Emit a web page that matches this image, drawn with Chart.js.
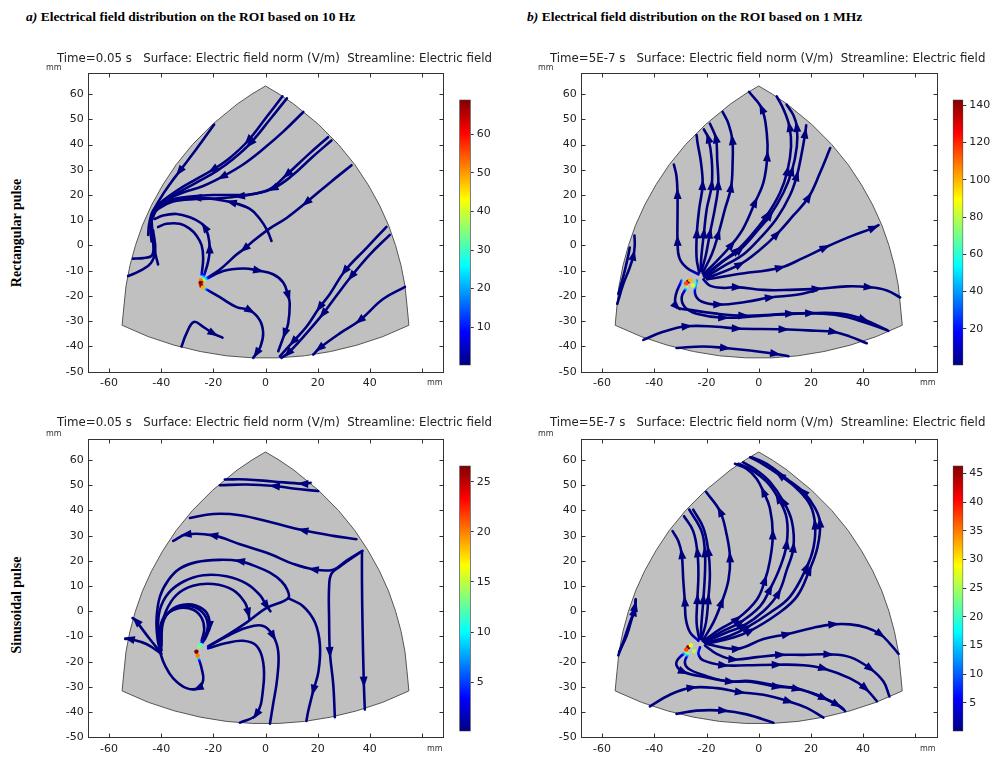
<!DOCTYPE html>
<html>
<head>
<meta charset="utf-8">
<script src="https://cdn.jsdelivr.net/npm/chart.js@4.4.1/dist/chart.umd.min.js"></script>
<style>
  body { margin: 0; width: 994px; height: 758px; background: #fff; position: relative; overflow: hidden; }
  canvas, .txt { position: absolute; }
  .title { font: bold 13.5px "Liberation Serif", serif; white-space: nowrap; color: #000; }
  .sub { font: 11.8px "DejaVu Sans", sans-serif; white-space: pre; color: #222; }
  .unit { font: 8px "DejaVu Sans", sans-serif; color: #333; }
  .side { font: bold 14px "Liberation Serif", serif; white-space: nowrap; transform: translate(-50%, -50%) rotate(-90deg); }
</style>
</head>
<body>
<div class="txt title" style="left:26px;top:9px"><i>a)</i> Electrical field distribution on the ROI based on 10 Hz</div>
<div class="txt title" style="left:527px;top:9px"><i>b)</i> Electrical field distribution on the ROI based on 1 MHz</div>
<div class="txt side" style="left:17px;top:233px">Rectangular pulse</div>
<div class="txt side" style="left:17px;top:605px">Sinusoidal pulse</div>

<canvas id="p1" width="408" height="330" style="left:40px;top:62px"></canvas>
<canvas id="p2" width="408" height="330" style="left:533px;top:62px"></canvas>
<canvas id="p3" width="408" height="330" style="left:40px;top:428px"></canvas>
<canvas id="p4" width="408" height="330" style="left:533px;top:428px"></canvas>
<canvas id="c1" width="45" height="285" style="left:455px;top:90px"></canvas>
<canvas id="c2" width="46" height="285" style="left:948px;top:90px"></canvas>
<canvas id="c3" width="45" height="285" style="left:455px;top:456px"></canvas>
<canvas id="c4" width="46" height="285" style="left:948px;top:456px"></canvas>

<script>
// ---- data (mm) ----
const xTicks = [-60, -40, -20, 0, 20, 40, 60];
const xTickLabels = ['-60', '-40', '-20', '0', '20', '40', ''];
const yTicks = [-50, -40, -30, -20, -10, 0, 10, 20, 30, 40, 50, 60];

const subtitle10Hz = 'Time=0.05 s   Surface: Electric field norm (V/m)  Streamline: Electric field';
const subtitle1MHz = 'Time=5E-7 s   Surface: Electric field norm (V/m)  Streamline: Electric field';

// outline of the region of interest
const roiBoundary = [
  [-55, -31.6], [-54.3, -24], [-53.5, -16], [-52, -8], [-49.9, 0], [-47.2, 8], [-43.7, 16],
  [-39.4, 24], [-34.3, 32], [-28, 40], [-20.3, 48], [-10.9, 56], [-5.2, 60], [0, 63.2],
  [5.2, 60], [10.9, 56], [20.3, 48], [28, 40], [34.3, 32], [39.4, 24], [43.7, 16], [47.2, 8],
  [49.9, 0], [52, -8], [53.5, -16], [54.3, -24], [55, -31.6],
  [45, -36.1], [35, -39.5], [25, -42], [15, -43.7], [5, -44.5], [-5, -44.5], [-15, -43.7],
  [-25, -42], [-35, -39.5], [-45, -36.1], [-55, -31.6]
];

// colour bar ranges (V/m) and ticks
const cbRange10HzRect = [0.1, 69];
const cbRange1MHzRect = [0.4, 143];
const cbRange10HzSin = [0.1, 26.6];
const cbRange1MHzSin = [0, 46.4];
const cbTicks10HzRect = [10, 20, 30, 40, 50, 60];
const cbTicks1MHzRect = [20, 40, 60, 80, 100, 120, 140];
const cbTicks10HzSin = [5, 10, 15, 20, 25];
const cbTicks1MHzSin = [5, 10, 15, 20, 25, 30, 35, 40, 45];

// electrode hot spot: centre and a few surface samples [x, y, relative norm]
const src10HzRect = [-24.8, -15];
const src1MHzRect = [-26.5, -14.8];
const src10HzSin = [-26.2, -16];
const src1MHzSin = [-26.5, -14.8];
const hot10HzRect = [[-24.8, -13.8, 0.75], [-24.9, -14.8, 1], [-24.6, -15.9, 0.95], [-24.0, -16.6, 0.7]];
const hot1MHzRect = [[-27.0, -14.3, 1], [-27.8, -15.0, 0.8], [-26.2, -13.8, 0.7], [-25.2, -15.8, 0.6]];
const hot10HzSin = [[-26.5, -16.0, 1], [-26.0, -17.6, 0.75], [-25.4, -13.8, 0.5], [-24.8, -13.4, 0.45]];
const hot1MHzSin = [[-27.0, -14.3, 1], [-27.8, -15.2, 0.8], [-26.0, -13.6, 0.6], [-24.8, -15.8, 0.55]];

// streamlines, listed in flow order; third value 1 marks an arrow head
const lines10HzRect = [
  [[6.5, 59.1], [0.4, 50.9], [-6.6, 41.6, 1], [-13.7, 34.7], [-20.1, 30.1, 1], [-27.7, 25.6], [-34.1, 21.7], [-39.3, 17.8], [-43.1, 13.9], [-44.6, 8.7], [-45.0, 4.2]],
  [[8.2, 58.3], [1.7, 49.9], [-5.8, 40.5, 1], [-12.4, 34.3], [-18.8, 29.5], [-26.5, 24.9], [-32.9, 21.3], [-38.0, 18.2], [-41.8, 14.5], [-43.4, 10.6]],
  [[-19.7, 47.9], [-26.5, 38.2], [-32.9, 29.5, 1], [-36.7, 24.3], [-40.5, 18.4], [-43.1, 13.2], [-44.1, 6.8], [-43.7, 1.6]],
  [[14.5, 52.9], [6.8, 45.1], [-0.9, 38.2], [-8.6, 32.1], [-16.5, 27.3, 1], [-23.9, 23.6], [-31.6, 21.0], [-37.3, 18.4], [-41.6, 14.8], [-43.7, 10.0]],
  [[24.0, 42.9], [16.4, 36.0], [8.3, 28.2, 1], [1.7, 22.3], [-4.7, 20.4], [-12.4, 20.0], [-20.1, 20.0], [-27.7, 19.5], [-35.4, 18.4], [-40.5, 16.1], [-43.4, 12.6]],
  [[25.3, 41.6], [17.6, 34.7], [10.0, 27.5], [2.9, 22.6, 1], [-4.7, 20.4], [-9.8, 19.5, 1], [-17.5, 18.7], [-26.5, 18.4], [-35.4, 17.4], [-41.2, 14.5], [-43.6, 11.3]],
  [[33.0, 31.8], [24.7, 24.9], [15.7, 17.1, 1], [8.1, 10.9], [1.7, 6.8], [-4.7, 1.8], [-8.0, -1.2, 1], [-11.1, -3.6], [-17.5, -9.5], [-22.6, -13.0], [-24.3, -14.3]],
  [[2.3, 1.8], [0.6, 6.1], [-2.2, 10.6], [-6.0, 14.5], [-13.0, 17.1, 1], [-20.1, 18.4], [-26.5, 18.9, 1], [-32.9, 18.4], [-38.0, 16.8], [-41.8, 14.5]],
  [[-23.9, -12.9], [-22.0, -6.4], [-21.4, -1.2, 1], [-22.0, 4.0], [-23.3, 7.3, 1], [-25.2, 9.2], [-29.0, 11.2], [-34.1, 12.5], [-39.3, 11.9], [-42.5, 10.5]],
  [[-24.5, -11.6], [-23.9, -5.1], [-24.5, 0.1], [-26.5, 4.0], [-29.0, 6.6], [-32.9, 8.6], [-38.0, 8.6], [-41.2, 7.3]],
  [[-43.7, 10.0], [-43.1, 2.0], [-42.3, -3.0], [-41.2, -7.5]],
  [[-43.7, 8.0], [-43.0, 0], [-43.6, -4.0], [-47.0, -5.0], [-50.8, -5.2]],
  [[-43.1, 6.0], [-42.3, -2.0], [-44.0, -7.0], [-48.0, -10.0], [-52.7, -12.1]],
  [[46.4, 7.4], [38.7, -1.0], [30.4, -10.1, 1], [24.7, -19.2], [20.8, -24.4, 1], [15.7, -32.2], [10.6, -38.1, 1], [5.5, -43.9]],
  [[47.7, 4.2], [40.0, -3.6], [33.0, -12.1, 1], [27.2, -19.9], [22.1, -27.0, 1], [15.7, -34.8], [8.7, -42.6, 1], [6.1, -44.5]],
  [[53.5, -16.4], [45.1, -21.2], [36.2, -29.6, 1], [28.5, -34.8], [20.8, -40.6, 1], [18.3, -43.2]],
  [[-23.9, -14.0], [-16.2, -10.1], [-8.6, -9.1], [-2.8, -9.9, 1], [2.9, -11.4], [6.8, -14.7], [8.7, -19.9, 1], [9.3, -23.1], [8.7, -30.9], [7.4, -34.8, 1], [4.9, -41.9]],
  [[-23.9, -16.6], [-17.5, -20.5], [-11.1, -24.4], [-6.0, -25.7, 1], [-2.2, -29.6], [-0.9, -34.8], [-1.9, -40.0], [-3.4, -42.6, 1], [-4.7, -44.5]],
  [[-32.2, -40.0], [-30.3, -34.8], [-27.5, -30.3], [-23.9, -32.2], [-20.1, -34.8, 1], [-16.5, -36.5]]
];

const lines1MHzRect = [
  [[-23.1, -11.4], [-27.6, -8.8], [-30.4, -4.9], [-31.1, 1.8, 1], [-31.1, 11.9], [-31.1, 20.4, 1], [-31.5, 27.5], [-32.5, 32.1]],
  [[-22.8, -10.8], [-23.8, -4.9], [-23.7, 4.8, 1], [-22.8, 14.5], [-21.5, 23.9, 1], [-22.1, 32.7], [-23.4, 40.5], [-23.8, 43.8]],
  [[-22.3, -10.1], [-21.9, -3.6], [-21.0, 4.8, 1], [-19.9, 14.5], [-18.0, 23.9, 1], [-18.0, 34.0], [-19.3, 42.5, 1], [-21.0, 46.0]],
  [[-21.9, -10.1], [-20.2, -3.6], [-18.7, 4.8, 1], [-16.8, 14.5], [-15.5, 23.9, 1], [-15.9, 34.0], [-16.4, 42.5, 1], [-18.7, 48.3]],
  [[-21.5, -10.8], [-18.0, -3.6], [-15.5, 4.4, 1], [-12.9, 14.5], [-10.6, 23.0, 1], [-10.0, 32.7], [-10.1, 41.8, 1], [-11.6, 48.3], [-13.8, 52.9]],
  [[-21.2, -11.4], [-16.1, -6.2], [-10.4, 0.3, 1], [-5.9, 6.8], [-1.4, 17.1, 1], [1.8, 24.9], [3.3, 35.3, 1], [3.1, 44.4], [1.2, 54.2, 1], [-3.7, 60.9]],
  [[-21.0, -12.1], [-15.5, -7.5], [-8.4, -2.0, 1], [-2.7, 4.2], [3.1, 11.9, 1], [8.2, 21.0], [11.0, 29.5, 1], [12.4, 39.2], [11.8, 47.0, 1], [9.7, 53.5], [6.9, 59.1]],
  [[-20.7, -12.5], [-13.6, -6.2], [-7.2, -1.7, 1], [-0.8, 5.5], [4.3, 11.9, 1], [9.5, 21.0], [12.7, 29.5, 1], [14.6, 39.2], [14.6, 47.0, 1], [13.3, 51.6], [10.7, 55.8]],
  [[-20.5, -12.7], [-12.3, -7.5], [-5.9, -3.6], [0.5, 2.9], [6.9, 10.7], [11.9, 19.7], [14.6, 27.5, 1], [16.5, 36.6], [17.8, 44.4, 1], [18.2, 47.6]],
  [[-19.9, -13.0], [-7.2, -7.5, 1], [0.5, -1.7], [6.9, 4.4, 1], [13.3, 11.9], [19.1, 19.1, 1], [23.5, 28.8], [27.4, 38.6]],
  [[-19.7, -13.4], [-8.4, -11.4], [8.2, -8.8, 1], [17.1, -4.9], [25.4, -0.8, 1], [35.0, 3.5], [44.0, 7.0, 1], [45.9, 8.1]],
  [[-21.2, -13.4], [-18.7, -15.9], [-13.6, -16.8], [-8.4, -16.5, 1], [1.8, -17.6], [12.0, -17.6], [22.2, -17.2, 1], [33.8, -16.2], [42.1, -16.5, 1], [49.1, -17.8], [54.2, -20.6]],
  [[-23.8, -13.9], [-24.4, -19.0], [-21.9, -22.2], [-15.5, -23.4, 1], [-4.6, -22.3], [4.3, -20.6, 1], [14.6, -19.5], [22.2, -17.7]],
  [[-27.6, -16.6], [-29.5, -20.5], [-28.3, -24.4], [-23.8, -27.0], [-13.6, -28.6, 1], [-0.8, -28.0], [12.0, -27.0, 1], [24.8, -27.0], [33.8, -28.3], [40.2, -30.3], [49.1, -33.5]],
  [[-29.5, -13.9], [-31.8, -19.7], [-31.5, -24.2, 1], [-26.3, -25.5], [-16.1, -27.0], [-5.9, -27.8, 1], [6.9, -27.4], [19.7, -26.8, 1], [31.2, -27.0], [40.2, -29.3, 1], [49.7, -33.8]],
  [[-44.2, -37.4], [-36.6, -34.2], [-27.6, -32.0, 1], [-16.1, -32.2], [-8.4, -32.9, 1], [9.5, -33.2, 1], [22.2, -33.8], [28.6, -34.2, 1], [35.0, -36.1], [41.4, -38.7]],
  [[-31.5, -40.6], [-21.2, -40.0], [-12.9, -40.6, 1], [-3.3, -41.6], [6.3, -42.9, 1], [11.4, -43.9]],
  [[-54.2, -23.1], [-51.8, -15.0], [-49.5, -9.0], [-48.0, -4.0, 1], [-47.5, 0], [-47.6, 3.9]],
  [[-53.8, -19.2], [-51.8, -12.0], [-50.2, -5.0], [-49.4, -0.8]]
];

const lines10HzSin = [
  [[17.3, 51.0], [14.5, 50.6, 1], [2.9, 51.5], [-7.3, 52.3], [-15.6, 52.3]],
  [[20.2, 47.7], [10.6, 48.7], [3.6, 49.7, 1], [-7.3, 50.3], [-17.5, 50.0]],
  [[34.9, 28.6], [26.0, 29.9], [14.5, 32.1, 1], [2.9, 35.1], [-9.8, 38.1], [-20.1, 38.6], [-29.0, 37.0]],
  [[37.2, 24.0], [31.1, 20.1], [26.0, 16.5], [18.5, 16.6, 1], [10.6, 18.8], [1.7, 22.7], [-9.8, 26.6], [-20.1, 30.1, 1], [-30.3, 30.5, 1], [-35.4, 27.9]],
  [[-22.0, -13.9], [-15.0, -9.7], [-7.3, -4.5], [0.4, 1.3], [8.7, 5.2], [8.4, 8.4], [6.1, 11.9], [1.7, 15.3], [-4.7, 18.2], [-9.8, 19.9, 1], [-17.5, 20.4], [-26.5, 19.5], [-32.9, 16.9], [-37.3, 12.3], [-40.5, 5.8], [-41.8, -3.2], [-41.4, -11.0], [-40.2, -16.5]],
  [[-40.3, -16.0], [-41.2, -7.1], [-40.5, 0.6], [-37.3, 7.1], [-31.6, 11.7], [-23.9, 14.3], [-15.0, 13.9], [-7.3, 11.0], [-2.2, 6.5], [0.4, 2.2, 1], [1.9, 0]],
  [[-39.9, -15.6], [-40.3, -7.8], [-38.2, 0], [-34.1, 6.5], [-27.8, 10.1], [-20.1, 10.8], [-12.4, 8.4], [-7.9, 3.5], [-6.6, -0.6, 1], [-6.2, -3.2]],
  [[-39.9, -13.6], [-39.3, -4.5], [-36.1, 0.6], [-31.6, 2.6], [-26.5, 2.2], [-22.6, -0.6], [-21.4, -5.8, 1], [-22.9, -10.4], [-24.3, -12.6]],
  [[-40.3, -13.6], [-39.9, -5.2], [-37.3, -0.6], [-32.2, 1.9], [-27.1, 1.6], [-23.5, -1.3], [-22.1, -5.8], [-23.5, -11.0], [-24.7, -12.9]],
  [[-40.5, -13.0], [-40.3, -5.8], [-38.0, -1.3], [-32.9, 1.3], [-27.7, 0.6], [-24.5, -2.6], [-23.5, -7.1], [-24.5, -11.7]],
  [[-40.3, -16.2], [-44.4, -11.0], [-48.2, -5.8], [-49.5, -3.9, 1], [-51.0, -2.7]],
  [[-39.9, -16.9], [-45.7, -13.0], [-52.1, -11.0, 1], [-53.8, -11.0]],
  [[-26.4, -16.8], [-25.4, -19.5], [-24.5, -22.7], [-23.9, -27.3], [-25.8, -30.5, 1], [-30.3, -30.5], [-35.4, -26.6], [-38.6, -21.4], [-40.5, -16.2]],
  [[37.0, 23.8], [37.0, 12.3], [37.2, -4.5], [37.7, -27.9, 1], [38.1, -39.0]],
  [[37.0, 23.8], [28.6, 17.8], [25.3, 14.9], [24.4, 9.7], [24.4, -3.2], [24.7, -16.2, 1], [26.0, -29.2], [26.6, -42.0]],
  [[8.7, 5.2], [14.5, 1.9], [19.0, -4.5], [20.9, -13.6], [20.3, -24.0], [18.4, -31.2, 1], [16.4, -39.6], [15.7, -43.5]],
  [[-22.0, -14.0], [-15.0, -10.0], [-7.3, -6.5], [-0.9, -5.8], [2.9, -9.7, 1], [4.9, -16.2], [4.5, -26.6], [2.9, -37.0], [1.7, -44.6]],
  [[-22.0, -14.7], [-15.0, -12.6], [-8.6, -11.7], [-3.5, -13.6], [-0.9, -20.1], [-0.9, -30.5], [-3.5, -40.9, 1], [-9.8, -44.2]]
];

const lines1MHzSin = [
  [[-23.1, -11.7], [-26.3, -8.4], [-27.9, -3.2], [-28.3, 3.9, 1], [-28.9, 12.3], [-29.5, 22.7, 1], [-30.8, 27.9], [-33.0, 31.8]],
  [[-22.8, -11.0], [-23.8, -4.5], [-23.5, 4.8, 1], [-23.1, 14.9], [-23.5, 23.4, 1], [-25.1, 31.8], [-28.6, 37.7]],
  [[-22.3, -11.0], [-21.9, -4.5], [-21.2, 4.8, 1], [-20.6, 14.9], [-20.6, 23.4, 1], [-21.9, 31.8], [-26.6, 40.3]],
  [[-22.0, -11.0], [-20.2, -4.5], [-19.3, 4.8, 1], [-18.7, 14.9], [-19.3, 23.8, 1], [-21.2, 33.1], [-25.1, 40.3]],
  [[-21.5, -11.7], [-17.4, -4.5], [-14.2, 3.5, 1], [-11.6, 12.3], [-11.0, 21.4, 1], [-12.3, 30.5], [-14.8, 39.6, 1], [-20.2, 47.4]],
  [[-21.2, -11.7], [-14.8, -7.1], [-8.4, -3.2, 1], [-0.8, 4.5], [2.4, 12.3, 1], [4.3, 20.1], [5.4, 30.5, 1], [4.3, 40.9], [1.8, 47.4, 1], [-0.8, 52.6], [-4.6, 56.5], [-9.1, 58.5]],
  [[-21.0, -12.1], [-13.6, -7.8], [-7.2, -4.5, 1], [0.5, 1.9], [4.3, 8.7, 1], [8.2, 17.5], [10.7, 26.6, 1], [10.7, 37.0], [7.5, 44.8, 1], [3.1, 51.3], [-3.3, 56.5], [-7.8, 58.5]],
  [[-20.7, -12.3], [-12.3, -8.4], [-5.9, -5.8, 1], [1.8, 0], [7.5, 7.1, 1], [10.7, 16.2], [13.3, 25.3, 1], [12.7, 35.7], [9.5, 43.5, 1], [4.3, 51.3], [-0.8, 55.9], [-5.9, 59.1]],
  [[-20.5, -12.6], [-11.0, -9.7], [-4.6, -6.5, 1], [4.3, -0.6], [12.0, 5.8], [18.4, 17.5, 1], [21.0, 25.3], [21.6, 34.4, 1], [19.7, 42.2], [14.6, 48.7], [8.2, 53.9, 1], [0.5, 59.1], [-3.3, 61.1]],
  [[-20.2, -12.9], [-9.7, -10.4], [-3.3, -7.8, 1], [6.9, -1.3], [14.6, 5.8], [19.4, 16.2, 1], [22.5, 25.3], [23.5, 35.1, 1], [21.6, 40.9], [17.1, 47.4, 1], [10.7, 52.6], [3.1, 58.5], [-2.7, 61.1]],
  [[-20.0, -13.0], [-8.4, -14.9, 1], [1.8, -11.0], [10.7, -9.1, 1], [21.0, -6.5], [28.6, -5.2, 1], [35.0, -5.2], [41.4, -6.5], [46.6, -9.1, 1], [50.4, -13.0], [53.6, -16.9]],
  [[-20.6, -13.6], [-16.1, -16.9], [-9.7, -19.1, 1], [-0.8, -18.2], [8.2, -17.3, 1], [17.1, -17.3], [26.7, -17.1, 1], [35.0, -18.2], [42.7, -22.7, 1], [47.8, -27.9], [50.1, -33.8]],
  [[-22.5, -14.3], [-23.1, -16.9], [-21.2, -19.5], [-13.6, -21.4, 1], [-4.6, -21.4], [6.9, -21.2, 1], [17.1, -21.4], [24.8, -22.7, 1], [35.0, -26.6], [40.8, -30.5, 1], [45.3, -35.7]],
  [[-27.6, -16.0], [-30.8, -18.8], [-31.5, -21.4], [-28.9, -24.0, 1], [-21.2, -26.0], [-11.0, -27.9, 1], [-3.3, -27.9], [6.9, -29.9, 1], [14.6, -30.5], [24.8, -34.4, 1], [31.2, -37.7], [33.1, -39.6]],
  [[-27.0, -16.9], [-28.3, -20.1], [-27.0, -22.7], [-21.2, -25.3], [-12.3, -27.7], [-3.3, -27.7], [6.9, -29.5], [14.6, -30.8, 1], [22.3, -33.1], [29.9, -37.0, 1], [32.5, -39.0]],
  [[-41.7, -37.7], [-34.0, -33.1], [-25.7, -30.3, 1], [-16.1, -30.5], [-7.2, -32.1, 1], [1.8, -33.1], [11.4, -35.7, 1], [18.4, -38.3], [24.8, -42.2]],
  [[-31.5, -40.7], [-23.8, -39.4], [-13.6, -39.4, 1], [-4.6, -40.9], [5.6, -44.2]],
  [[-53.8, -17.5], [-51.5, -11.0], [-49.4, -4.5], [-47.7, 0, 1], [-47.1, 4.8]],
  [[-53.5, -16.2], [-50.6, -9.7], [-48.7, -3.2], [-47.4, 1.9, 1], [-47.1, 4.5]]
];

// ---- styling ----
const navy = '#00007f';
const heatRadius = 5.5;
const jetStops = [[0, '#00007f'], [0.125, '#0000ff'], [0.375, '#00ffff'], [0.625, '#ffff00'], [0.875, '#ff0000'], [1, '#7f0000']];
const heatStops = [[0, '#7f0000'], [0.15, '#ff0000'], [0.3, '#ffff00'], [0.45, '#00ffff'], [0.65, '#0000ff'], [1, '#00007f']];

Chart.defaults.font.family = "'DejaVu Sans', sans-serif";
Chart.defaults.font.size = 11;
Chart.defaults.color = '#222';

function jet(t) {
  // interpolate the jet colour map
  for (let i = 1; i < jetStops.length; i++) {
    if (t <= jetStops[i][0]) {
      const [t0, c0] = jetStops[i - 1], [t1, c1] = jetStops[i];
      const f = (t - t0) / (t1 - t0);
      const a = [1, 3, 5].map(k => parseInt(c0.substr(k, 2), 16));
      const b = [1, 3, 5].map(k => parseInt(c1.substr(k, 2), 16));
      return 'rgb(' + a.map((v, j) => Math.round(v + (b[j] - v) * f)).join(',') + ')';
    }
  }
  return jetStops[jetStops.length - 1][1];
}

function heatStroke(chart, c) {
  const xs = chart.scales.x, ys = chart.scales.y;
  if (!xs || !ys) return navy;
  const px = xs.getPixelForValue(c[0]), py = ys.getPixelForValue(c[1]);
  const r = xs.getPixelForValue(c[0] + heatRadius) - px;
  if (!isFinite(px) || !isFinite(py) || !(r > 0)) return navy;
  const g = chart.ctx.createRadialGradient(px, py, 0, px, py, r);
  heatStops.forEach(([o, col]) => g.addColorStop(o, col));
  return g;
}

// box with inward ticks on all four sides
const framePlugin = {
  id: 'frame',
  afterDatasetsDraw(chart) {
    const { ctx, chartArea: a } = chart;
    const xs = chart.scales.x, ys = chart.scales.y;
    const L = Math.round(a.left) + 0.5, R = Math.round(a.right) + 0.5;
    const T = Math.round(a.top) + 0.5, B = Math.round(a.bottom) + 0.5;
    ctx.save();
    ctx.strokeStyle = '#333';
    ctx.lineWidth = 1;
    ctx.strokeRect(L, T, R - L, B - T);
    ctx.beginPath();
    xTicks.forEach(v => {
      const px = Math.round(xs.getPixelForValue(v)) + 0.5;
      ctx.moveTo(px, B); ctx.lineTo(px, B - 4);
      ctx.moveTo(px, T); ctx.lineTo(px, T + 4);
    });
    yTicks.forEach(v => {
      const py = Math.round(ys.getPixelForValue(v)) + 0.5;
      ctx.moveTo(L, py); ctx.lineTo(L + 4, py);
      ctx.moveTo(R, py); ctx.lineTo(R - 4, py);
    });
    ctx.stroke();
    ctx.restore();
  }
};

// arrow heads along streamlines
const arrowPlugin = {
  id: 'arrows',
  afterDatasetsDraw(chart) {
    const { ctx } = chart;
    const xs = chart.scales.x, ys = chart.scales.y;
    ctx.save();
    ctx.fillStyle = navy;
    chart.data.datasets.forEach(ds => {
      if (!ds.arrows) return;
      const pts = ds.data;
      ds.arrows.forEach(i => {
        const p = pts[i], a = pts[Math.max(0, i - 1)], b = pts[Math.min(pts.length - 1, i + 1)];
        const px = xs.getPixelForValue(p.x), py = ys.getPixelForValue(p.y);
        let dx = xs.getPixelForValue(b.x) - xs.getPixelForValue(a.x);
        let dy = ys.getPixelForValue(b.y) - ys.getPixelForValue(a.y);
        const len = Math.hypot(dx, dy) || 1;
        dx /= len; dy /= len;
        ctx.beginPath();
        ctx.moveTo(px + dx * 6, py + dy * 6);
        ctx.lineTo(px - dx * 5 - dy * 4, py - dy * 5 + dx * 4);
        ctx.lineTo(px - dx * 5 + dy * 4, py - dy * 5 - dx * 4);
        ctx.closePath();
        ctx.fill();
      });
    });
    ctx.restore();
  }
};

function drawPanel(id, lines, src, hot, box) {
  const datasets = [{
    data: roiBoundary.map(p => ({ x: p[0], y: p[1] })),
    showLine: true, fill: 'shape', tension: 0,
    backgroundColor: '#c0c0c0', borderColor: '#555', borderWidth: 1,
    pointRadius: 0, order: 10
  }];
  lines.forEach(pts => {
    datasets.push({
      data: pts.map(p => ({ x: p[0], y: p[1] })),
      arrows: pts.map((p, i) => p[2] ? i : -1).filter(i => i >= 0),
      showLine: true, fill: false, tension: 0.4,
      borderColor: ctx => heatStroke(ctx.chart, src),
      borderWidth: 2.6, borderCapStyle: 'round',
      pointRadius: 0, order: 2
    });
  });
  datasets.push({
    data: hot.map(p => ({ x: p[0], y: p[1] })),
    pointRadius: 2.2, borderWidth: 0,
    pointBackgroundColor: hot.map(p => jet(p[2])),
    showLine: false, order: 0
  });

  new Chart(document.getElementById(id), {
    type: 'scatter',
    data: { datasets },
    plugins: [framePlugin, arrowPlugin],
    options: {
      responsive: false, animation: false, devicePixelRatio: 1,
      layout: { padding: { top: box.top, right: box.right, left: 0, bottom: 0 } },
      plugins: { legend: { display: false }, tooltip: { enabled: false } },
      scales: {
        x: {
          type: 'linear', min: -68.2, max: 68.2,
          grid: { display: false, drawTicks: false }, border: { display: false },
          afterBuildTicks: s => { s.ticks = xTicks.map(v => ({ value: v })); },
          afterFit: s => { s.height = box.xh; },
          ticks: { padding: 5, maxRotation: 0, autoSkip: false, callback: (v, i) => xTickLabels[i] }
        },
        y: {
          type: 'linear', min: -50, max: 68.5,
          grid: { display: false, drawTicks: false }, border: { display: false },
          afterBuildTicks: s => { s.ticks = yTicks.map(v => ({ value: v })); },
          afterFit: s => { s.width = box.yw; },
          ticks: { padding: 4, autoSkip: false, callback: v => String(v) }
        }
      }
    }
  });
}

function drawColorbar(id, range, ticks, box) {
  new Chart(document.getElementById(id), {
    type: 'bar',
    data: {
      labels: [''],
      datasets: [{
        data: [[range[0], range[1]]],
        backgroundColor: ctx => {
          const a = ctx.chart.chartArea;
          if (!a) return navy;
          const g = ctx.chart.ctx.createLinearGradient(0, a.bottom, 0, a.top);
          jetStops.forEach(([o, c]) => g.addColorStop(o, c));
          return g;
        },
        borderColor: '#444', borderWidth: 1, borderSkipped: false,
        barPercentage: 1, categoryPercentage: 1
      }]
    },
    options: {
      responsive: false, animation: false, devicePixelRatio: 1,
      layout: { padding: { left: box.left, top: box.top, bottom: box.bottom, right: 0 } },
      plugins: { legend: { display: false }, tooltip: { enabled: false } },
      scales: {
        x: { display: false },
        y: {
          position: 'right', min: range[0], max: range[1],
          grid: { drawOnChartArea: false, tickLength: 3, color: '#333' },
          border: { display: false },
          afterBuildTicks: s => { s.ticks = ticks.map(v => ({ value: v })); },
          afterFit: s => { s.width = box.w; },
          ticks: { padding: 3, autoSkip: false }
        }
      }
    }
  });
}

drawPanel('p1', lines10HzRect, src10HzRect, hot10HzRect, { top: 6.3, right: 4.7, xh: 20.3, yw: 47.7 });
drawPanel('p2', lines1MHzRect, src1MHzRect, hot1MHzRect, { top: 6.3, right: 4.3, xh: 20.3, yw: 47.7 });
drawPanel('p3', lines10HzSin, src10HzSin, hot10HzSin, { top: 6.3, right: 4.7, xh: 20.7, yw: 47.7 });
drawPanel('p4', lines1MHzSin, src1MHzSin, hot1MHzSin, { top: 6.3, right: 4.3, xh: 20.7, yw: 47.7 });

drawColorbar('c1', cbRange10HzRect, cbTicks10HzRect, { left: 4.3, top: 5, bottom: 7.7, w: 29.3 });
drawColorbar('c2', cbRange1MHzRect, cbTicks1MHzRect, { left: 4.7, top: 5, bottom: 8.3, w: 30.7 });
drawColorbar('c3', cbRange10HzSin, cbTicks10HzSin, { left: 4.3, top: 5, bottom: 8.3, w: 29.3 });
drawColorbar('c4', cbRange1MHzSin, cbTicks1MHzSin, { left: 4.7, top: 5, bottom: 7.7, w: 30.7 });

// panel headers and axis unit labels
[[57, 51, subtitle10Hz], [550, 51, subtitle1MHz], [57, 415, subtitle10Hz], [550, 415, subtitle1MHz]].forEach(([x, y, t]) => {
  const d = document.createElement('div');
  d.className = 'txt sub';
  d.style.left = x + 'px'; d.style.top = y + 'px';
  d.textContent = t;
  document.body.appendChild(d);
});
[[46, 63], [427, 378], [538, 63], [920, 378], [46, 429], [427, 744], [538, 429], [920, 744]].forEach(([x, y]) => {
  const d = document.createElement('div');
  d.className = 'txt unit';
  d.style.left = x + 'px'; d.style.top = y + 'px';
  d.textContent = 'mm';
  document.body.appendChild(d);
});
</script>
</body>
</html>
